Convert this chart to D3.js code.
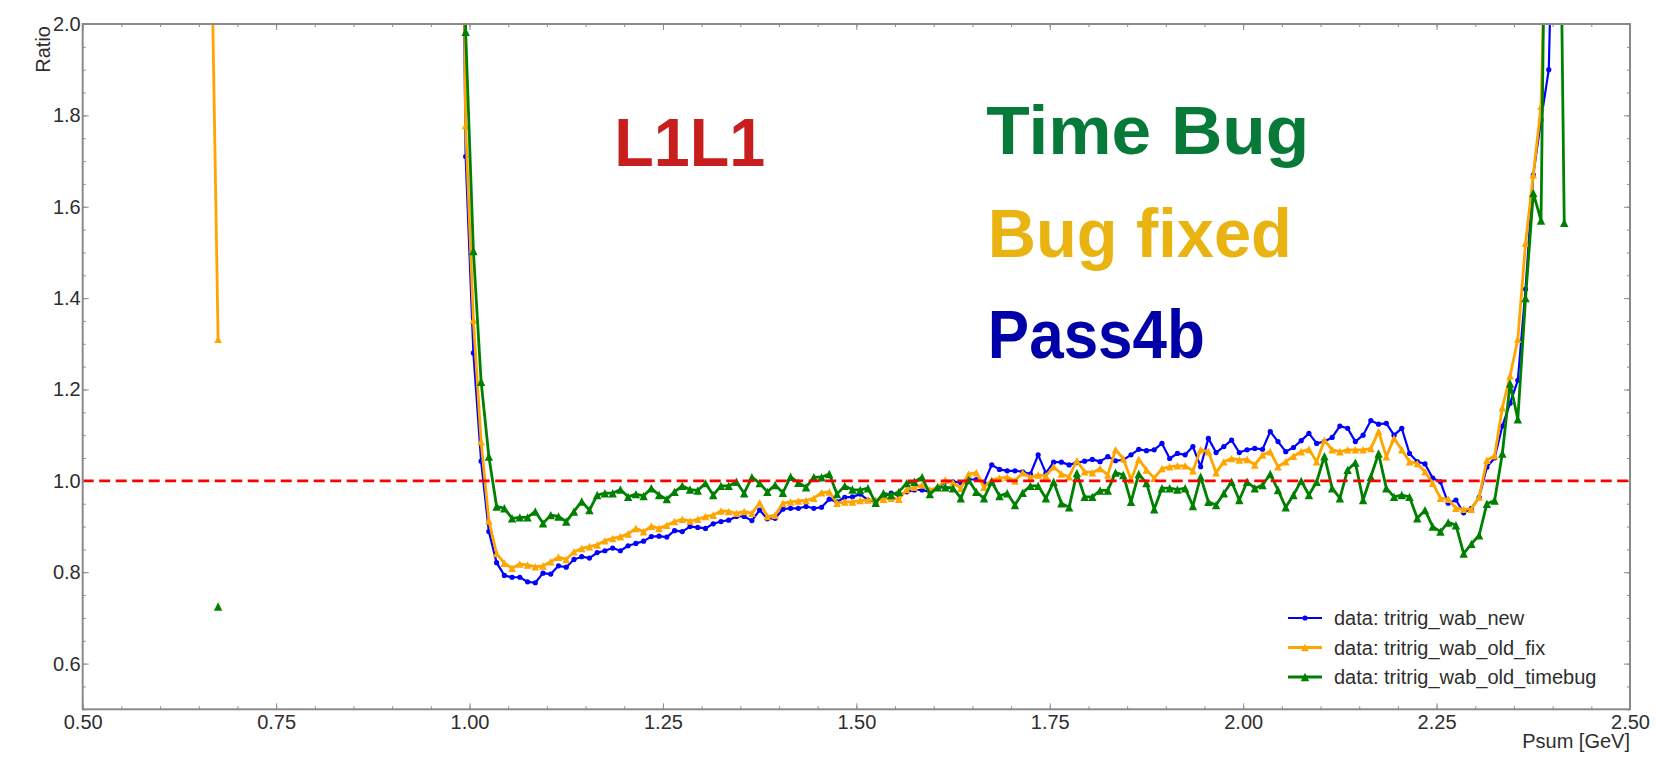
<!DOCTYPE html>
<html>
<head>
<meta charset="utf-8">
<script src="https://cdn.jsdelivr.net/npm/d3@7"></script>
<style>
  html, body { margin: 0; padding: 0; background: #ffffff; }
  svg { display: block; }
</style>
</head>
<body>
<svg id="chart" width="1656" height="757"></svg>
<script>
// Psum bin centres [GeV] of the main block
const psum = [
  0.985, 0.995,
  1.005, 1.015, 1.025, 1.035, 1.045, 1.055, 1.065, 1.075, 1.085, 1.095,
  1.105, 1.115, 1.125, 1.135, 1.145, 1.155, 1.165, 1.175, 1.185, 1.195,
  1.205, 1.215, 1.225, 1.235, 1.245, 1.255, 1.265, 1.275, 1.285, 1.295,
  1.305, 1.315, 1.325, 1.335, 1.345, 1.355, 1.365, 1.375, 1.385, 1.395,
  1.405, 1.415, 1.425, 1.435, 1.445, 1.455, 1.465, 1.475, 1.485, 1.495,
  1.505, 1.515, 1.525, 1.535, 1.545, 1.555, 1.565, 1.575, 1.585, 1.595,
  1.605, 1.615, 1.625, 1.635, 1.645, 1.655, 1.665, 1.675, 1.685, 1.695,
  1.705, 1.715, 1.725, 1.735, 1.745, 1.755, 1.765, 1.775, 1.785, 1.795,
  1.805, 1.815, 1.825, 1.835, 1.845, 1.855, 1.865, 1.875, 1.885, 1.895,
  1.905, 1.915, 1.925, 1.935, 1.945, 1.955, 1.965, 1.975, 1.985, 1.995,
  2.005, 2.015, 2.025, 2.035, 2.045, 2.055, 2.065, 2.075, 2.085, 2.095,
  2.105, 2.115, 2.125, 2.135, 2.145, 2.155, 2.165, 2.175, 2.185, 2.195,
  2.205, 2.215, 2.225, 2.235, 2.245, 2.255, 2.265, 2.275, 2.285, 2.295,
  2.305, 2.315, 2.325, 2.335, 2.345, 2.355, 2.365, 2.375, 2.385, 2.395,
  2.405, 2.415
];

// Ratio per bin, tritrig_wab_new (Pass4b)
const ratioNew = [
  3.2, 1.71,
  1.28, 1.043, 0.889, 0.821, 0.793, 0.789, 0.789, 0.779, 0.777, 0.798,
  0.796, 0.814, 0.811, 0.828, 0.834, 0.831, 0.843, 0.847, 0.853, 0.847,
  0.858, 0.863, 0.868, 0.878, 0.879, 0.877, 0.891, 0.889, 0.900, 0.898,
  0.896, 0.906, 0.911, 0.914, 0.922, 0.922, 0.913, 0.936, 0.917, 0.918,
  0.938, 0.940, 0.940, 0.944, 0.940, 0.942, 0.960, 0.954, 0.964, 0.965,
  0.971, 0.958, 0.954, 0.965, 0.973, 0.969, 0.976, 0.980, 0.980, 0.976,
  0.984, 0.998, 0.998, 0.996, 1.003, 1.003, 0.996, 1.035, 1.025, 1.022,
  1.022, 1.020, 1.015, 1.057, 1.017, 1.041, 1.041, 1.035, 1.040, 1.043,
  1.047, 1.042, 1.053, 1.044, 1.046, 1.057, 1.069, 1.066, 1.068, 1.082,
  1.049, 1.060, 1.057, 1.075, 1.031, 1.093, 1.062, 1.075, 1.089, 1.062,
  1.068, 1.071, 1.069, 1.108, 1.086, 1.064, 1.073, 1.088, 1.104, 1.082,
  1.086, 1.095, 1.120, 1.115, 1.086, 1.100, 1.132, 1.124, 1.126, 1.100,
  1.115, 1.060, 1.042, 1.037, 1.006, 0.998, 0.951, 0.958, 0.930, 0.940,
  0.964, 1.030, 1.050, 1.120, 1.170, 1.220, 1.420, 1.670, 1.790, 1.900,
  2.600, null
];

// Ratio per bin, tritrig_wab_old_fix (bug fixed)
const ratioOldFix = [
  3.5, 1.778,
  1.352, 1.086, 0.913, 0.841, 0.820, 0.809, 0.818, 0.816, 0.812, 0.814,
  0.823, 0.833, 0.828, 0.845, 0.852, 0.856, 0.860, 0.869, 0.874, 0.878,
  0.884, 0.896, 0.889, 0.901, 0.896, 0.903, 0.911, 0.916, 0.912, 0.916,
  0.922, 0.925, 0.934, 0.933, 0.929, 0.933, 0.929, 0.952, 0.922, 0.925,
  0.951, 0.954, 0.956, 0.957, 0.962, 0.974, 0.976, 0.951, 0.954, 0.954,
  0.957, 0.958, 0.958, 0.960, 0.962, 0.960, 0.981, 0.986, 0.991, 0.980,
  0.986, 1.002, 0.996, 0.984, 1.015, 1.018, 0.986, 1.002, 1.006, 1.008,
  1.000, 1.018, 1.008, 1.013, 1.011, 1.031, 1.015, 1.009, 1.044, 1.020,
  1.018, 1.027, 1.013, 1.068, 1.049, 1.002, 1.047, 1.024, 1.006, 1.027,
  1.031, 1.033, 1.033, 1.022, 1.068, 1.064, 1.018, 1.042, 1.049, 1.046,
  1.047, 1.035, 1.057, 1.064, 1.031, 1.042, 1.054, 1.064, 1.069, 1.042,
  1.089, 1.068, 1.064, 1.068, 1.068, 1.068, 1.071, 1.108, 1.053, 1.093,
  1.068, 1.042, 1.038, 1.020, 0.995, 0.962, 0.960, 0.940, 0.938, 0.938,
  0.965, 1.045, 1.055, 1.160, 1.230, 1.310, 1.520, 1.670, 1.820, 2.500,
  null, null
];

// Ratio per bin, tritrig_wab_old_timebug (time bug)
const ratioOldTimebug = [
  4.0, 1.983,
  1.503, 1.217, 1.053, 0.944, 0.940, 0.918, 0.920, 0.920, 0.933, 0.907,
  0.925, 0.922, 0.911, 0.933, 0.955, 0.936, 0.969, 0.973, 0.973, 0.981,
  0.965, 0.971, 0.967, 0.984, 0.969, 0.960, 0.976, 0.989, 0.981, 0.979,
  0.995, 0.969, 0.989, 0.989, 0.998, 0.973, 1.008, 0.995, 0.976, 0.991,
  0.974, 1.009, 0.996, 0.986, 1.008, 1.008, 1.015, 0.971, 0.989, 0.981,
  0.980, 0.984, 0.952, 0.973, 0.969, 0.976, 0.995, 0.998, 1.008, 0.971,
  0.986, 0.986, 0.984, 0.962, 1.002, 0.976, 0.962, 0.998, 0.967, 0.973,
  0.947, 0.974, 0.989, 0.989, 0.962, 0.998, 0.951, 0.942, 1.017, 0.965,
  0.965, 0.979, 0.979, 1.018, 1.013, 0.954, 1.015, 0.995, 0.938, 0.984,
  0.984, 0.981, 0.984, 0.945, 1.009, 0.954, 0.947, 0.973, 0.998, 0.958,
  0.998, 0.984, 0.991, 1.015, 0.980, 0.942, 0.969, 1.000, 0.969, 0.998,
  1.054, 0.984, 0.962, 1.024, 1.040, 0.958, 1.009, 1.060, 0.984, 0.965,
  0.969, 0.965, 0.918, 0.936, 0.900, 0.889, 0.909, 0.903, 0.841, 0.862,
  0.881, 0.950, 0.957, 1.060, 1.213, 1.135, 1.400, 1.630, 1.570, 3.000,
  3.000, 1.565
];

// Isolated low-Psum bins
const lowPsum = [0.665, 0.675];
const lowNew = [null, null];
const lowOldFix = [2.33, 1.31];
const lowOldTimebug = [null, 0.725];

const xTickValues = [0.50, 0.75, 1.00, 1.25, 1.50, 1.75, 2.00, 2.25, 2.50];
const yTickValues = [0.6, 0.8, 1.0, 1.2, 1.4, 1.6, 1.8, 2.0];
const referenceRatio = 1.0;

const seriesNames = ["data: tritrig_wab_new", "data: tritrig_wab_old_fix", "data: tritrig_wab_old_timebug"];
const seriesColors = ["#0000ff", "#ffa500", "#008000"];

const annotations = [
  { text: "L1L1",      color: "#c81e1e", x: 1.187, y: 1.689, width: 151 },
  { text: "Time Bug",  color: "#077a3a", x: 1.668, y: 1.715, width: 323 },
  { text: "Bug fixed", color: "#e9b412", x: 1.670, y: 1.490, width: 304 },
  { text: "Pass4b",    color: "#0000a8", x: 1.670, y: 1.269, width: 217 }
];

// ---------------------------------------------------------------------------
const svg = d3.select("#chart");
const plotLeft = 82.7, plotRight = 1630, plotTop = 24, plotBottom = 709.3;
const x = d3.scaleLinear().domain([0.5, 2.5]).range([plotLeft, plotRight]);
const y = d3.scaleLinear().domain([0.5, 2.0]).range([plotBottom, plotTop]);

const axisColor = "#8a8a8a";
const textColor = "#2e2e2e";
const font = "'Liberation Sans', Arial, Helvetica, sans-serif";

svg.append("rect").attr("width", 1656).attr("height", 757).attr("fill", "#ffffff");

svg.append("defs").append("clipPath").attr("id", "plotClip")
  .append("rect").attr("x", plotLeft).attr("y", plotTop)
  .attr("width", plotRight - plotLeft).attr("height", plotBottom - plotTop);

// Axes: minor ticks, then major ticks with labels, mirrored on top/right
function styleAxis(g) {
  g.select(".domain").remove();
  g.selectAll(".tick line").attr("stroke", axisColor).attr("stroke-width", 1);
  g.selectAll(".tick text").attr("fill", textColor)
    .style("font-family", font).style("font-size", "20px");
}
const xMinor = x.ticks(40), yMinor = y.ticks(30);

svg.append("g").attr("transform", `translate(0,${plotBottom})`)
  .call(d3.axisBottom(x).tickValues(xMinor).tickSize(-3).tickFormat(""))
  .call(styleAxis);
svg.append("g").attr("transform", `translate(0,${plotTop})`)
  .call(d3.axisTop(x).tickValues(xMinor).tickSize(-3).tickFormat(""))
  .call(styleAxis);
svg.append("g").attr("transform", `translate(${plotLeft},0)`)
  .call(d3.axisLeft(y).tickValues(yMinor).tickSize(-3).tickFormat(""))
  .call(styleAxis);
svg.append("g").attr("transform", `translate(${plotRight},0)`)
  .call(d3.axisRight(y).tickValues(yMinor).tickSize(-3).tickFormat(""))
  .call(styleAxis);

svg.append("g").attr("transform", `translate(0,${plotBottom})`)
  .call(d3.axisBottom(x).tickValues(xTickValues).tickSize(-6).tickPadding(6)
    .tickFormat(d3.format(".2f")))
  .call(styleAxis);
svg.append("g").attr("transform", `translate(0,${plotTop})`)
  .call(d3.axisTop(x).tickValues(xTickValues).tickSize(-6).tickFormat(""))
  .call(styleAxis);
svg.append("g").attr("transform", `translate(${plotLeft},0)`)
  .call(d3.axisLeft(y).tickValues(yTickValues).tickSize(-6).tickPadding(2)
    .tickFormat(d3.format(".1f")))
  .call(styleAxis);
svg.append("g").attr("transform", `translate(${plotRight},0)`)
  .call(d3.axisRight(y).tickValues(yTickValues).tickSize(-6).tickFormat(""))
  .call(styleAxis);

// Axis titles
svg.append("text")
  .attr("transform", `translate(49.5,${plotTop + 2}) rotate(-90)`)
  .attr("text-anchor", "end")
  .attr("fill", textColor).style("font-family", font).style("font-size", "20px")
  .text("Ratio");
svg.append("text")
  .attr("x", plotRight).attr("y", 748)
  .attr("text-anchor", "end")
  .attr("fill", textColor).style("font-family", font).style("font-size", "20px")
  .text("Psum [GeV]");

// Data series
const series = [
  { name: seriesNames[0], color: seriesColors[0], low: lowNew, main: ratioNew, marker: "dot", width: 2.2 },
  { name: seriesNames[1], color: seriesColors[1], low: lowOldFix, main: ratioOldFix, marker: "tri", width: 2.8, r: 3.8 },
  { name: seriesNames[2], color: seriesColors[2], low: lowOldTimebug, main: ratioOldTimebug, marker: "tri", width: 2.8, r: 4.2 }
];

const plot = svg.append("g").attr("clip-path", "url(#plotClip)");
const line = d3.line()
  .defined(d => d.v !== null)
  .x(d => x(d.p)).y(d => y(d.v));

function triangle(r) {
  return `M0,${-r}L${r},${r}L${-r},${r}Z`;
}

function drawMarkers(g, s, pts) {
  if (s.marker === "dot") {
    g.selectAll(null).data(pts).join("circle")
      .attr("cx", d => x(d.p)).attr("cy", d => y(d.v))
      .attr("r", 2.6).attr("fill", s.color);
  } else {
    g.selectAll(null).data(pts).join("path")
      .attr("transform", d => `translate(${x(d.p)},${y(d.v)})`)
      .attr("d", triangle(s.r)).attr("fill", s.color);
  }
}

series.forEach(s => {
  const lowPts = lowPsum.map((p, i) => ({ p, v: s.low[i] }));
  const mainPts = psum.map((p, i) => ({ p, v: s.main[i] }));
  const g = plot.append("g");
  [lowPts, mainPts].forEach(pts => {
    g.append("path").datum(pts)
      .attr("d", line).attr("fill", "none")
      .attr("stroke", s.color).attr("stroke-width", s.width)
      .attr("stroke-linejoin", "round");
  });
  drawMarkers(g, s, lowPts.concat(mainPts).filter(d => d.v !== null));
});

// Reference line at ratio = 1
plot.append("line")
  .attr("x1", x(0.5)).attr("x2", x(2.5))
  .attr("y1", y(referenceRatio)).attr("y2", y(referenceRatio))
  .attr("stroke", "#ff0000").attr("stroke-width", 2.6)
  .attr("stroke-dasharray", "11,5.5");

// Frame
svg.append("rect")
  .attr("x", plotLeft).attr("y", plotTop)
  .attr("width", plotRight - plotLeft).attr("height", plotBottom - plotTop)
  .attr("fill", "none").attr("stroke", axisColor).attr("stroke-width", 2);

// Legend
const legend = svg.append("g").attr("transform", "translate(1288,618)");
series.forEach((s, i) => {
  const row = legend.append("g").attr("transform", `translate(0,${i * 29.5})`);
  row.append("line").attr("x1", 0).attr("x2", 34).attr("y1", 0).attr("y2", 0)
    .attr("stroke", s.color).attr("stroke-width", s.width);
  const mk = row.append("g").attr("transform", "translate(17,0)");
  if (s.marker === "dot") {
    mk.append("circle").attr("r", 2.6).attr("fill", s.color);
  } else {
    mk.append("path").attr("d", triangle(s.r)).attr("fill", s.color);
  }
  row.append("text").attr("x", 46).attr("y", 7)
    .attr("fill", textColor).style("font-family", font).style("font-size", "20px")
    .text(s.name);
});

// Annotations
annotations.forEach(a => {
  svg.append("text")
    .attr("x", x(a.x)).attr("y", y(a.y))
    .attr("fill", a.color)
    .attr("textLength", a.width).attr("lengthAdjust", "spacingAndGlyphs")
    .style("font-family", "'Liberation Sans Narrow', 'Liberation Sans', Arial, sans-serif")
    .style("font-weight", "bold").style("font-size", "68px")
    .text(a.text);
});
</script>
</body>
</html>
